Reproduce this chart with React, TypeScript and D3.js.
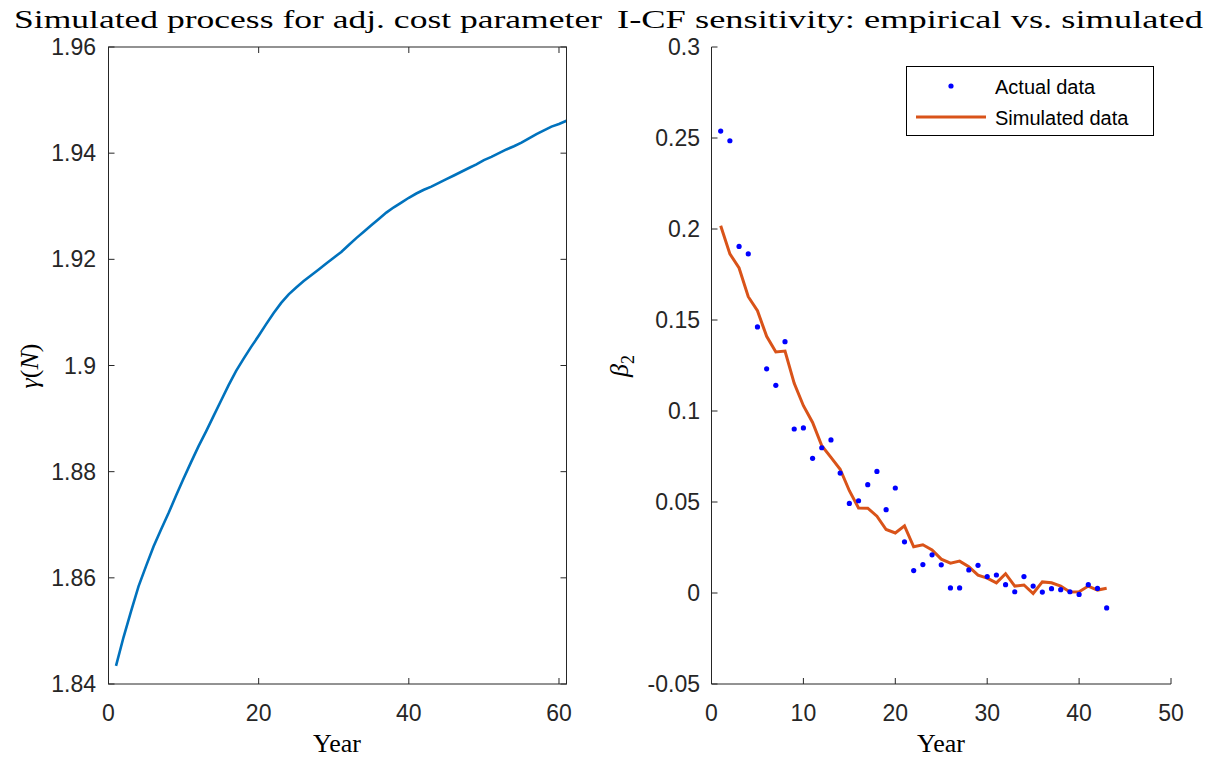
import React from "react";
import * as d3 from "d3";

// left panel: simulated adjustment cost parameter, years 1..61
const gammaYears = d3.range(1, 62);
const gammaValues = [
  1.8434, 1.8488, 1.8537, 1.8584, 1.8622, 1.8659, 1.8691, 1.8722, 1.8755, 1.8787,
  1.8818, 1.8848, 1.8876, 1.8905, 1.8934, 1.8963, 1.899, 1.9013, 1.9035, 1.9056,
  1.9078, 1.9099, 1.9118, 1.9134, 1.9147, 1.9159, 1.917, 1.9181, 1.9192, 1.9203,
  1.9214, 1.9227, 1.924, 1.9252, 1.9264, 1.9276, 1.9288, 1.9298, 1.9307, 1.9316,
  1.9324, 1.9331, 1.9337, 1.9344, 1.9351, 1.9358, 1.9365, 1.9372, 1.9379, 1.9387,
  1.9393, 1.94, 1.9407, 1.9413, 1.942, 1.9428, 1.9436, 1.9443, 1.945, 1.9455,
  1.9461,
];
const gammaXTicks = [0, 20, 40, 60];
const gammaYTicks = [1.84, 1.86, 1.88, 1.9, 1.92, 1.94, 1.96];

// right panel: beta_2, years 1..43
const betaYears = d3.range(1, 44);
const actualBeta = [
  0.2538, 0.2485, 0.1904, 0.1863, 0.1462, 0.1232, 0.1141, 0.1381, 0.0901, 0.0907,
  0.074, 0.0798, 0.0841, 0.0659, 0.0492, 0.0507, 0.0595, 0.0668, 0.0458, 0.0577,
  0.0281, 0.0123, 0.0156, 0.021, 0.0155, 0.0028, 0.0028, 0.0127, 0.0152, 0.009,
  0.0099, 0.0046, 0.0007, 0.009, 0.0038, 0.0005, 0.0024, 0.0018, 0.0007, -0.0008,
  0.0046, 0.0025, -0.0082,
];
const simulatedBeta = [
  0.2018, 0.1863, 0.1786, 0.1628, 0.1551, 0.141, 0.1324, 0.1329, 0.1152, 0.1029,
  0.0937, 0.0809, 0.0745, 0.068, 0.0562, 0.0467, 0.0466, 0.0422, 0.0349, 0.033,
  0.0369, 0.0254, 0.0265, 0.0237, 0.0186, 0.0164, 0.0175, 0.0145, 0.0098, 0.0082,
  0.0056, 0.0106, 0.0038, 0.0044, -0.0003, 0.0061, 0.0056, 0.0038, 0.0005, 0.0007,
  0.0038, 0.0016, 0.0026,
];
const betaXTicks = [0, 10, 20, 30, 40, 50];
const betaYTicks = [-0.05, 0, 0.05, 0.1, 0.15, 0.2, 0.25, 0.3];

const AX = "#262626";
const SANS = "'Liberation Sans', Arial, sans-serif";
const SERIF = "'Liberation Serif', 'DejaVu Serif', serif";
const TICK = 6;

const App = () => {
  const top = 47;
  const bottom = 684;

  const x1 = d3.scaleLinear().domain([0, 61]).range([108.5, 566.5]);
  const y1 = d3.scaleLinear().domain([1.84, 1.96]).range([bottom, top]);
  const x2 = d3.scaleLinear().domain([0, 50]).range([711.5, 1171]);
  const y2 = d3.scaleLinear().domain([-0.05, 0.3]).range([bottom, top]);

  const gammaLine = d3
    .line<number>()
    .x((d, i) => x1(gammaYears[i]))
    .y((d) => y1(d));
  const simLine = d3
    .line<number>()
    .x((d, i) => x2(betaYears[i]))
    .y((d) => y2(d));

  const fmt = (v: number) => String(+v.toFixed(4));

  return (
    <svg
      width={1207}
      height={759}
      style={{ position: "absolute", left: 0, top: 0, background: "#fff" }}
    >
      <rect width={1207} height={759} fill="#fff" />

      {/* ---------- left panel ---------- */}
      <text
        x={14}
        y={28}
        fontFamily={SERIF}
        fontSize={26}
        textLength={588}
        lengthAdjust="spacingAndGlyphs"
        fill="#000"
      >
        Simulated process for adj. cost parameter
      </text>
      <path d={gammaLine(gammaValues) || ""} fill="none" stroke="#0072BD" strokeWidth={2.6} />
      <rect
        x={x1(0)}
        y={top}
        width={x1(61) - x1(0)}
        height={bottom - top}
        fill="none"
        stroke={AX}
        strokeWidth={1}
      />
      {gammaXTicks.map((t) => (
        <g key={"gx" + t}>
          <line x1={x1(t)} x2={x1(t)} y1={bottom} y2={bottom - TICK} stroke={AX} />
          <line x1={x1(t)} x2={x1(t)} y1={top} y2={top + TICK} stroke={AX} />
          <text x={x1(t)} y={721} textAnchor="middle" fontFamily={SANS} fontSize={23} fill={AX}>
            {t}
          </text>
        </g>
      ))}
      {gammaYTicks.map((t) => (
        <g key={"gy" + t}>
          <line x1={x1(0)} x2={x1(0) + TICK} y1={y1(t)} y2={y1(t)} stroke={AX} />
          <line x1={x1(61)} x2={x1(61) - TICK} y1={y1(t)} y2={y1(t)} stroke={AX} />
          <text
            x={96}
            y={y1(t) + 8}
            textAnchor="end"
            fontFamily={SANS}
            fontSize={23}
            fill={AX}
          >
            {fmt(t)}
          </text>
        </g>
      ))}
      <text x={337} y={752} textAnchor="middle" fontFamily={SERIF} fontSize={26} fill="#000">
        Year
      </text>
      <text
        transform="translate(38,366) rotate(-90)"
        textAnchor="middle"
        fontFamily={SERIF}
        fontSize={26}
        fill="#000"
      >
        <tspan fontStyle="italic">γ</tspan>
        <tspan>(</tspan>
        <tspan fontStyle="italic">N</tspan>
        <tspan>)</tspan>
      </text>

      {/* ---------- right panel ---------- */}
      <text
        x={617}
        y={28}
        fontFamily={SERIF}
        fontSize={26}
        textLength={586}
        lengthAdjust="spacingAndGlyphs"
        fill="#000"
      >
        I-CF sensitivity: empirical vs. simulated
      </text>
      <path d={simLine(simulatedBeta) || ""} fill="none" stroke="#D95319" strokeWidth={3} />
      {actualBeta.map((v, i) => (
        <circle key={"a" + i} cx={x2(betaYears[i])} cy={y2(v)} r={2.6} fill="#0000FF" />
      ))}
      <line x1={x2(0)} x2={x2(0)} y1={top} y2={bottom} stroke={AX} />
      <line x1={x2(0)} x2={x2(50)} y1={bottom} y2={bottom} stroke={AX} />
      {betaXTicks.map((t) => (
        <g key={"bx" + t}>
          <line x1={x2(t)} x2={x2(t)} y1={bottom} y2={bottom - TICK} stroke={AX} />
          <text x={x2(t)} y={721} textAnchor="middle" fontFamily={SANS} fontSize={23} fill={AX}>
            {t}
          </text>
        </g>
      ))}
      {betaYTicks.map((t) => (
        <g key={"by" + t}>
          <line x1={x2(0)} x2={x2(0) + TICK} y1={y2(t)} y2={y2(t)} stroke={AX} />
          <text
            x={700}
            y={y2(t) + 8}
            textAnchor="end"
            fontFamily={SANS}
            fontSize={23}
            fill={AX}
          >
            {fmt(t)}
          </text>
        </g>
      ))}
      <text x={941} y={752} textAnchor="middle" fontFamily={SERIF} fontSize={26} fill="#000">
        Year
      </text>
      <text
        transform="translate(628,366) rotate(-90)"
        textAnchor="middle"
        fontFamily={SERIF}
        fontSize={26}
        fill="#000"
      >
        <tspan fontStyle="italic">β</tspan>
        <tspan fontSize={18} dy={6}>2</tspan>
      </text>

      {/* legend */}
      <rect x={906.5} y={66.5} width={247} height={69} fill="#fff" stroke="#000" strokeWidth={1} />
      <circle cx={951} cy={86} r={2.6} fill="#0000FF" />
      <text x={995} y={94} fontFamily={SANS} fontSize={20} fill="#000">
        Actual data
      </text>
      <line x1={916} x2={986} y1={117} y2={117} stroke="#D95319" strokeWidth={3} />
      <text x={995} y={125} fontFamily={SANS} fontSize={20} fill="#000">
        Simulated data
      </text>
    </svg>
  );
};

export default App;
